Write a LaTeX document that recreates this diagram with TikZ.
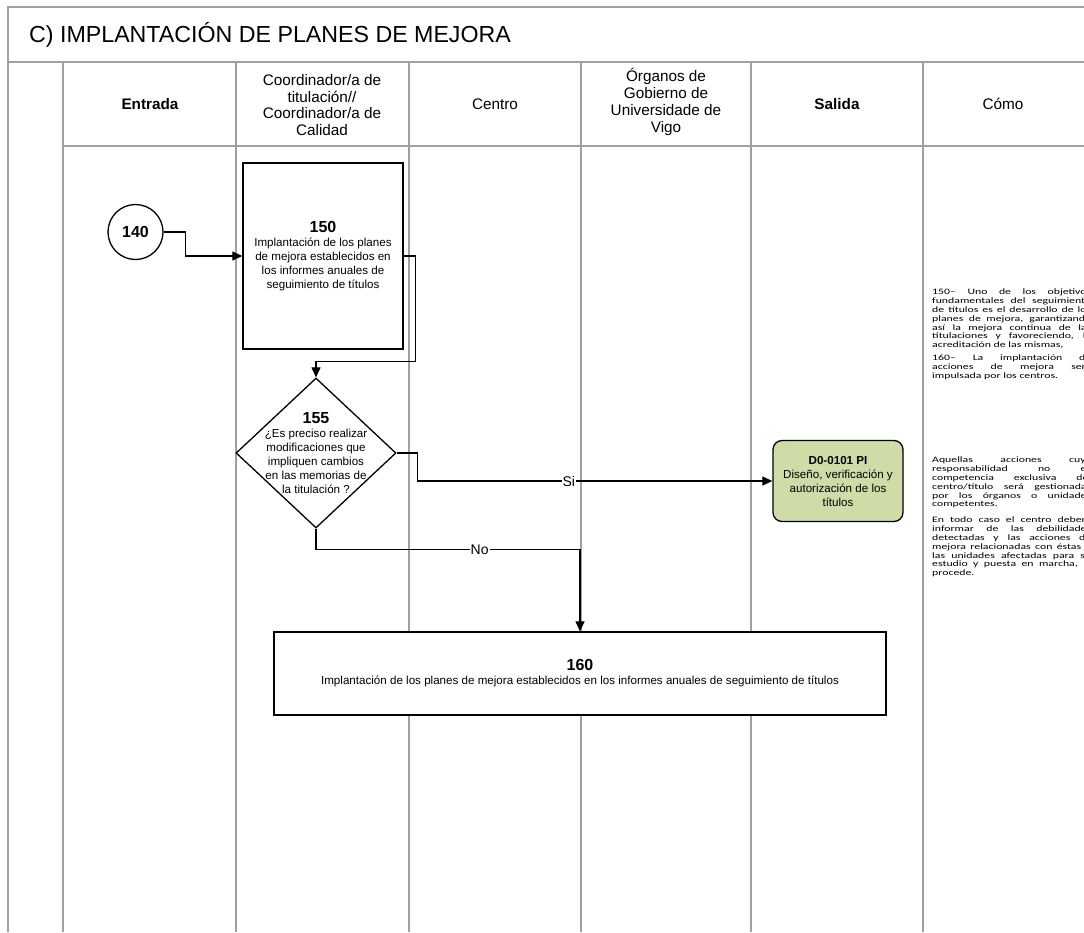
\documentclass[tikz,border=0pt]{standalone}
\usepackage{fontspec}
\setmainfont{Liberation Sans}
\newfontfamily\calib{Carlito}
\usetikzlibrary{shapes.geometric,arrows.meta,calc}
\definecolor{laneg}{RGB}{160,160,160}
\definecolor{dgreen}{RGB}{206,221,168}
\newcommand\fbody{\fontsize{11.6}{14}\selectfont}
\newcommand\fnum{\fontsize{16}{19}\selectfont\bfseries}
\newcommand\fhead{\fontsize{15.3}{16.8}\selectfont}
\newcommand\fnote{\calib\fontsize{8.3}{8.8}\selectfont}
\newcommand\notebox[1]{\scalebox{1.42}[1]{\parbox[t]{112pt}{\fnote #1}}}
\begin{document}
\begin{tikzpicture}[x=1pt,y=-1pt,
  lane/.style={draw=laneg,line width=1.3pt},
  shp/.style={draw=black,line width=1.3pt,fill=white,inner sep=2pt,font=\fbody,align=center},
  arr/.style={draw=black,line width=1.2pt,-{Triangle[length=10pt,width=9pt]}},
  lbl/.style={fill=white,inner sep=1pt,font=\fontsize{14}{16}\selectfont},
  hd/.style={font=\fhead,align=center,inner sep=0pt},
  note/.style={anchor=north west,inner sep=0pt}]
\useasboundingbox (0,0) rectangle (1084,932);
\fill[white] (0,0) rectangle (1084,932);
% frame and lanes
\draw[lane] (1084,7) -- (8,7) -- (8,932);
\draw[lane] (8,62) -- (1084,62);
\draw[lane] (63,146) -- (1084,146);
\foreach \x in {63,236,409,581,751,923} \draw[lane] (\x,62) -- (\x,932);
% title and headers
\node[anchor=west,inner sep=0pt,font=\fontsize{23.2}{26}\selectfont] (title) at (29,35) {C) IMPLANTACIÓN DE PLANES DE MEJORA};
\node[hd,font=\fhead\bfseries] (hEnt) at (150,104) {Entrada};
\node[hd] (hCoo) at (322,105) {Coordinador/a de\\titulación//\\Coordinador/a de\\Calidad};
\node[hd] (hCen) at (495,104) {Centro};
\node[hd] (hOrg) at (666,102) {Órganos de\\Gobierno de\\Universidade de\\Vigo};
\node[hd,font=\fhead\bfseries] (hSal) at (837,104) {Salida};
\node[hd] (hCom) at (1003,104) {Cómo};
% nodes
\node[shp,circle,minimum size=55pt,inner sep=0pt,font=\fnum] (n140) at (135.5,232) {140};
\node[shp,rectangle,minimum width=160pt,minimum height=186pt] (n150) at (323,256)
  {{\fnum 150}\\Implantación de los planes\\de mejora establecidos en\\los informes anuales de\\seguimiento de títulos};
\node[shp,diamond,minimum width=160pt,minimum height=150pt,inner sep=0pt] (n155) at (316,453) {};
\node[font=\fbody,align=center,inner sep=0pt] (n155t) at (n155.center)
  {{\fnum 155}\\¿Es preciso realizar\\modificaciones que\\impliquen cambios\\en las memorias de\\la titulación ?};
\node[shp,rectangle,rounded corners=9pt,fill=dgreen,minimum width=130pt,minimum height=81pt] (d0) at (838,481)
  {\textbf{D0-0101 PI}\\Diseño, verificación y\\autorización de los\\títulos};
\node[shp,rectangle,minimum width=612pt,minimum height=83pt] (n160) at (580,673.5)
  {{\fnum 160}\\Implantación de los planes de mejora establecidos en los informes anuales de seguimiento de títulos};
% connectors
\draw[arr] (n140.east) -- ++(22,0) |- (n150.west);
\draw[arr] (n150.east) -- ++(12,0) |- ($(n155.north)+(0,-16)$) -- (n155.north);
\draw[arr] (n155.east) -- ++(21,0) |- node[lbl,pos=0.713] {Si} (d0.west);
\draw[arr] (n155.south) -- ++(0,21) -| node[lbl,pos=0.31] {No} (n160.north);
% notes (Cómo column), clipped at the right edge as in the reference
\begin{scope}
\clip (924,147) rectangle (1084,932);
\node[note] (t1) at (932,289) {\notebox{150– Uno de los objetivos\linebreak fundamentales del seguimiento\linebreak de títulos es el desarrollo de los\linebreak planes de mejora, garantizando\linebreak así la mejora continua de las\linebreak titulaciones y favoreciendo, la\linebreak acreditación de las mismas,}};
\node[note] (t2) at (932,355) {\notebox{160– La implantación de\linebreak acciones de mejora será\linebreak impulsada por los centros.}};
\node[note] (t3) at (932,457) {\notebox{Aquellas acciones cuya\linebreak responsabilidad no es\linebreak competencia exclusiva del\linebreak centro/título será gestionadas\linebreak por los órganos o unidades\linebreak competentes.}};
\node[note] (t4) at (932,517) {\notebox{En todo caso el centro deberá\linebreak informar de las debilidades\linebreak detectadas y las acciones de\linebreak mejora relacionadas con éstas a\linebreak las unidades afectadas para su\linebreak estudio y puesta en marcha, si\linebreak procede.}};
\end{scope}
\end{tikzpicture}
\end{document}
